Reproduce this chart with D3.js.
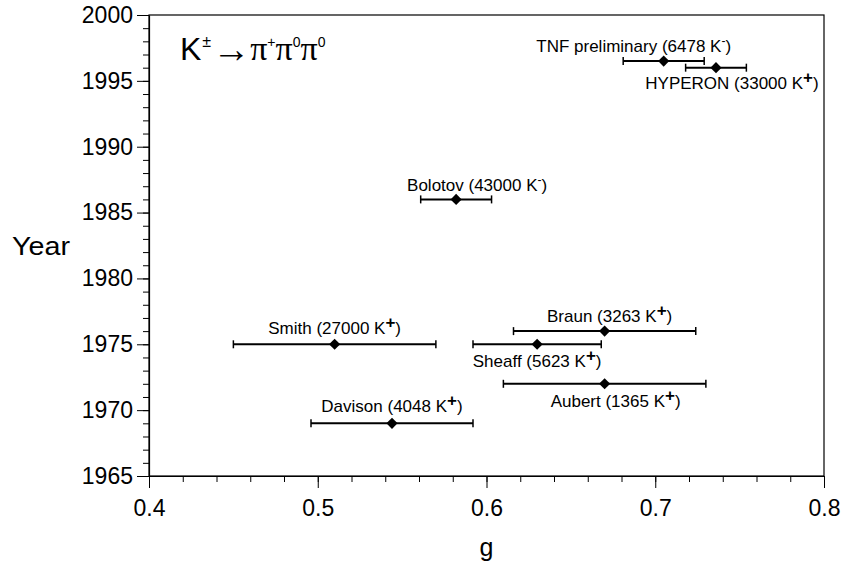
<!DOCTYPE html>
<html>
<head>
<meta charset="utf-8">
<script src="https://cdn.jsdelivr.net/npm/d3@7"></script>
<style>
  body { margin: 0; background: #fff; }
  svg { display: block; }
  text { font-family: "Liberation Sans", Arial, sans-serif; fill: #000; }
</style>
</head>
<body>
<div id="chart"></div>
<script>
// K± -> π±π0π0 slope parameter g, by experiment

const experiments = ["TNF preliminary", "HYPERON", "Bolotov", "Smith", "Braun", "Sheaff", "Aubert", "Davison"];
const kaonCounts = ["6478", "33000", "43000", "27000", "3263", "5623", "1365", "4048"];
const kaonCharges = ["-", "+", "-", "+", "+", "+", "+", "+"];
const gValues = [0.705, 0.736, 0.582, 0.510, 0.670, 0.630, 0.670, 0.544];
const gErrors = [0.024, 0.018, 0.021, 0.060, 0.054, 0.038, 0.060, 0.048];
const years = [1996.5, 1996, 1986, 1975, 1976, 1975, 1972, 1969];

const xTicks = [0.4, 0.5, 0.6, 0.7, 0.8];
const yTicks = [1965, 1970, 1975, 1980, 1985, 1990, 1995, 2000];

// label placement relative to the marker (px)
const labelOffsets = [[-30, -15], [16, 15], [21, -14], [0, -16], [5, -15], [0, 17], [11, 17], [0, -17]];

const W = 843, H = 567;
const margin = { top: 15, right: 19, bottom: 91, left: 149 };

const svg = d3.select("#chart").append("svg")
    .attr("width", W)
    .attr("height", H);

const x = d3.scaleLinear().domain([0.4, 0.8]).range([margin.left, W - margin.right]);
const y = d3.scaleLinear().domain([1965, 2000]).range([H - margin.bottom, margin.top]);

// frame
svg.append("rect")
    .attr("x", x(0.4))
    .attr("y", y(2000))
    .attr("width", x(0.8) - x(0.4))
    .attr("height", y(1965) - y(2000))
    .attr("fill", "none")
    .attr("stroke", "#000")
    .attr("stroke-width", 1.2);

// minor ticks
svg.append("g")
    .attr("transform", `translate(0,${y(1965)})`)
    .call(d3.axisBottom(x).tickValues(d3.range(0.4, 0.801, 0.02)).tickSize(6).tickSizeOuter(0).tickFormat(""))
    .call(g => g.select(".domain").remove());

svg.append("g")
    .attr("transform", `translate(${x(0.4)},0)`)
    .call(d3.axisLeft(y).tickValues(d3.range(1965, 2001, 1)).tickSize(6).tickSizeOuter(0).tickFormat(""))
    .call(g => g.select(".domain").remove());

// major ticks + labels
const xAxis = svg.append("g")
    .attr("transform", `translate(0,${y(1965)})`)
    .call(d3.axisBottom(x).tickValues(xTicks).tickSize(12).tickSizeOuter(0).tickPadding(12).tickFormat(d3.format(".1f")));

const yAxis = svg.append("g")
    .attr("transform", `translate(${x(0.4)},0)`)
    .call(d3.axisLeft(y).tickValues(yTicks).tickSize(12).tickSizeOuter(0).tickPadding(4).tickFormat(d3.format("d")));

[xAxis, yAxis].forEach(a => {
    a.select(".domain").attr("stroke-width", 1.2);
    a.selectAll("text")
        .attr("font-size", "23px")
        .attr("font-family", "Liberation Sans, Arial, sans-serif")
        .attr("fill", "#000");
});

// axis titles
svg.append("text")
    .attr("x", 12)
    .attr("y", (y(1965) + y(2000)) / 2 + 9)
    .attr("font-size", "25px")
    .attr("textLength", 58)
    .attr("lengthAdjust", "spacingAndGlyphs")
    .text("Year");

svg.append("text")
    .attr("x", (x(0.4) + x(0.8)) / 2)
    .attr("y", 556)
    .attr("text-anchor", "middle")
    .attr("font-size", "25px")
    .text("g");

// error bars
const data = experiments.map((name, i) => ({
    name, count: kaonCounts[i], charge: kaonCharges[i],
    g: gValues[i], err: gErrors[i], year: years[i], off: labelOffsets[i]
}));

const bars = svg.append("g").selectAll("g")
    .data(data)
    .join("g");

bars.append("line")
    .attr("x1", d => x(d.g - d.err))
    .attr("x2", d => x(d.g + d.err))
    .attr("y1", d => y(d.year))
    .attr("y2", d => y(d.year))
    .attr("stroke", "#000")
    .attr("stroke-width", 2);

bars.selectAll(".cap")
    .data(d => [d.g - d.err, d.g + d.err].map(v => ({ v, year: d.year })))
    .join("line")
    .attr("class", "cap")
    .attr("x1", c => x(c.v))
    .attr("x2", c => x(c.v))
    .attr("y1", c => y(c.year) - 4)
    .attr("y2", c => y(c.year) + 4)
    .attr("stroke", "#000")
    .attr("stroke-width", 1.5);

bars.append("path")
    .attr("d", d3.symbol(d3.symbolSquare, 62))
    .attr("transform", d => `translate(${x(d.g)},${y(d.year)}) rotate(45)`)
    .attr("fill", "#000");

// labels
const labels = bars.append("text")
    .attr("x", d => x(d.g) + d.off[0])
    .attr("y", d => y(d.year) + d.off[1] + 6)
    .attr("text-anchor", "middle")
    .attr("font-size", "17px");

labels.append("tspan").text(d => `${d.name} (${d.count} K`);
labels.append("tspan")
    .attr("dy", d => d.charge === "+" ? -6 : -7)
    .attr("font-size", d => d.charge === "+" ? "17px" : "12px")
    .attr("font-weight", d => d.charge === "+" ? "bold" : "normal")
    .text(d => d.charge);
labels.append("tspan")
    .attr("dy", d => d.charge === "+" ? 6 : 7)
    .text(")");

// reaction title
const serif = "Liberation Serif, serif";
const title = svg.append("text")
    .attr("x", 180)
    .attr("y", 60)
    .attr("font-size", "32px");

title.append("tspan").text("K");
title.append("tspan").attr("font-size", "16px").attr("dy", -13).attr("dx", 1).text("±");
title.append("tspan").attr("font-family", serif).attr("font-size", "38px").attr("dy", 15).attr("dx", 1).text("\u2192");
const pions = ["+", "0", "0"];
pions.forEach((c, i) => {
    title.append("tspan").attr("font-family", serif).attr("font-size", "34px")
        .attr("dy", i === 0 ? -2 : 13).text("\u03C0");
    title.append("tspan").attr("font-size", "14px").attr("dy", -13).text(c);
});
</script>
</body>
</html>
